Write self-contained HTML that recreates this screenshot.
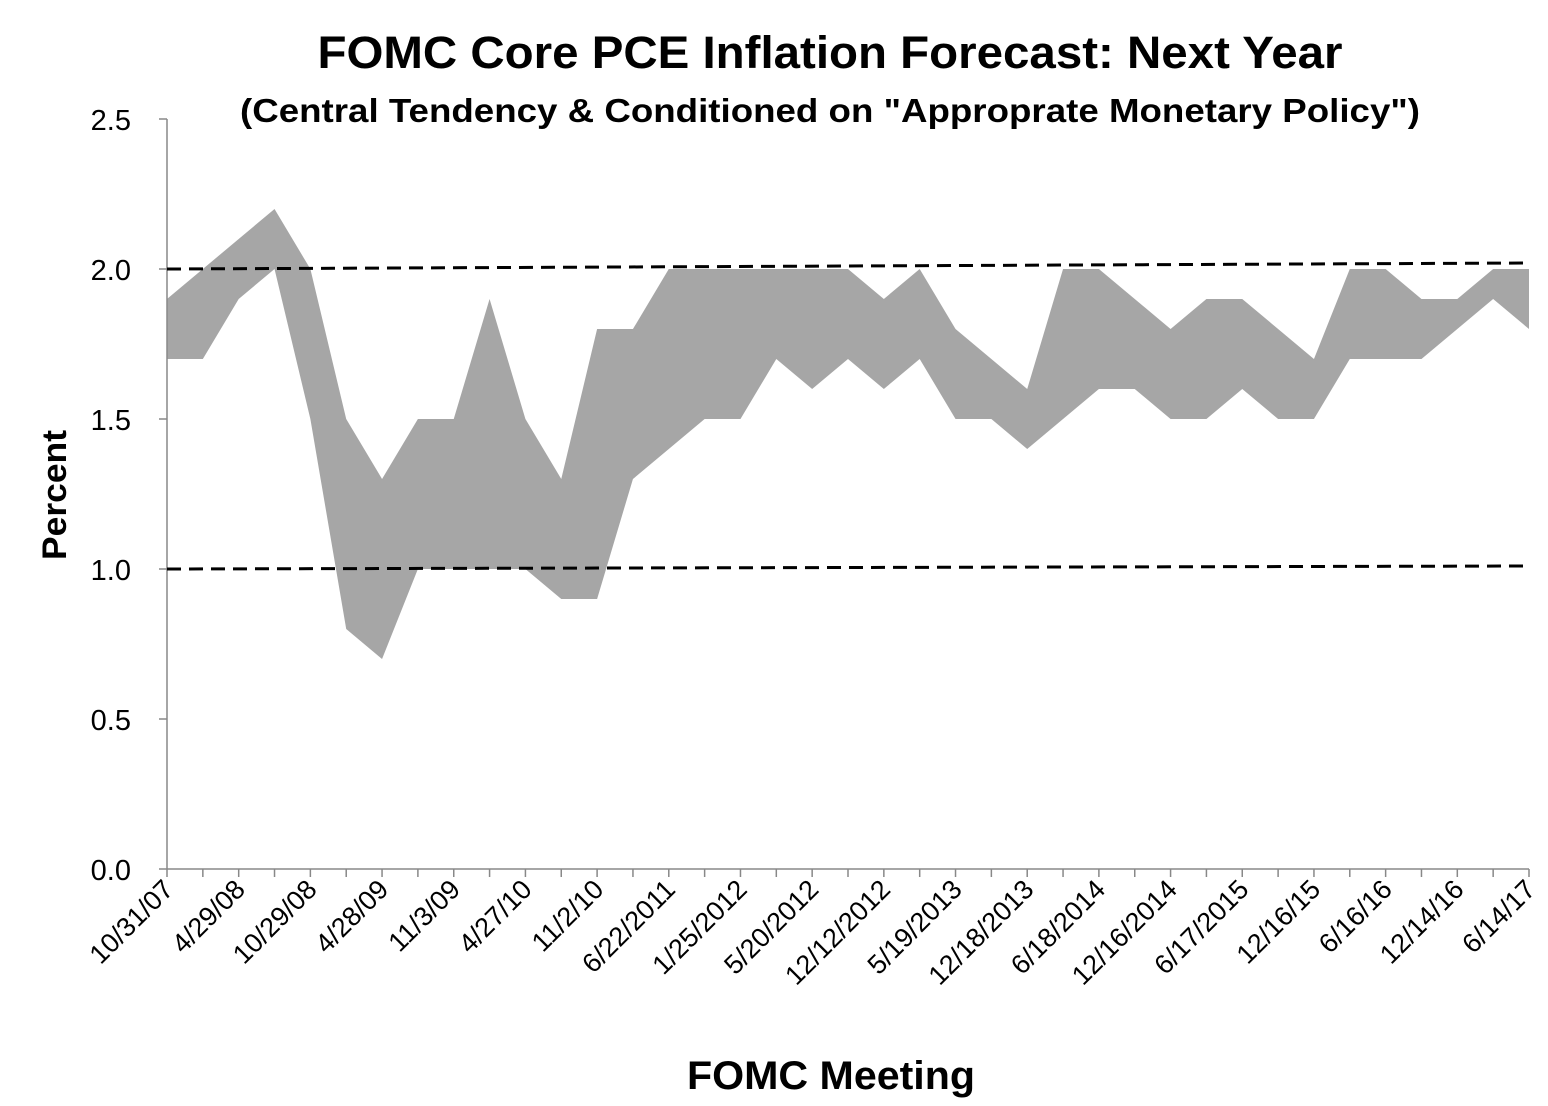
<!DOCTYPE html>
<html><head><meta charset="utf-8"><style>
body{margin:0;background:#fff;}
svg{display:block;font-family:"Liberation Sans",sans-serif;}
</style></head><body>
<svg id="chart" width="1548" height="1106" viewBox="0 0 1548 1106">
<text x="830" y="68" text-anchor="middle" font-size="45" font-weight="bold" textLength="1025" lengthAdjust="spacingAndGlyphs">FOMC Core PCE Inflation Forecast: Next Year</text>
<text x="830" y="122" text-anchor="middle" font-size="33" font-weight="bold" textLength="1180" lengthAdjust="spacingAndGlyphs">(Central Tendency &amp; Conditioned on "Approprate Monetary Policy")</text>
<text transform="translate(66,495) rotate(-90)" text-anchor="middle" font-size="34" font-weight="bold" textLength="130" lengthAdjust="spacingAndGlyphs">Percent</text>
<text x="831" y="1089" text-anchor="middle" font-size="40" font-weight="bold" textLength="288" lengthAdjust="spacingAndGlyphs">FOMC Meeting</text>
<g id="plot"></g>
</svg>
<script>
const labels=["10/31/07","","4/29/08","","10/29/08","","4/28/09","","11/3/09","","4/27/10","","11/2/10","","6/22/2011","","1/25/2012","","5/20/2012","","12/12/2012","","5/19/2013","","12/18/2013","","6/18/2014","","12/16/2014","","6/17/2015","","12/16/15","","6/16/16","","12/14/16","","6/14/17"];
const upper=[1.9,2.0,2.1,2.2,2.0,1.5,1.3,1.5,1.5,1.9,1.5,1.3,1.8,1.8,2.0,2.0,2.0,2.0,2.0,2.0,1.9,2.0,1.8,1.7,1.6,2.0,2.0,1.9,1.8,1.9,1.9,1.8,1.7,2.0,2.0,1.9,1.9,2.0,2.0];
const lower=[1.7,1.7,1.9,2.0,1.5,0.8,0.7,1.0,1.0,1.0,1.0,0.9,0.9,1.3,1.4,1.5,1.5,1.7,1.6,1.7,1.6,1.7,1.5,1.5,1.4,1.5,1.6,1.6,1.5,1.5,1.6,1.5,1.5,1.7,1.7,1.7,1.8,1.9,1.8];
const yTicks=[0,0.5,1.0,1.5,2.0,2.5];
const refLow=[1.0,1.01];
const refHigh=[2.0,2.02];
const X0=167,X1=1529,Y0=869,PPU=300;
const n=upper.length;
const xs=i=>X0+(X1-X0)*i/(n-1);
const ys=v=>Y0-v*PPU;
const NS="http://www.w3.org/2000/svg";
const g=document.getElementById('plot');
function mk(t,a){const e=document.createElementNS(NS,t);for(const k in a)e.setAttribute(k,a[k]);g.appendChild(e);return e;}
let pts=[];
for(let i=0;i<n;i++)pts.push(xs(i)+","+ys(upper[i]));
for(let i=n-1;i>=0;i--)pts.push(xs(i)+","+ys(lower[i]));
const band=mk('polygon',{points:pts.join(' '),fill:'#a6a6a6'});


const ax=mk('line',{x1:X0,y1:ys(2.5),x2:X0,y2:Y0,stroke:'#888','stroke-width':1.5});


const bx=mk('line',{x1:X0,y1:Y0,x2:X1,y2:Y0,stroke:'#888','stroke-width':1.5});


yTicks.forEach(v=>{
 mk('line',{x1:X0-8,y1:ys(v),x2:X0,y2:ys(v),stroke:'#888','stroke-width':1.5});
 const t=mk('text',{x:X0-36,y:ys(v)+11,'text-anchor':'end','font-size':29});
 t.textContent=v.toFixed(1);
 
 
});
for(let i=0;i<n;i++){
 mk('line',{x1:xs(i),y1:Y0,x2:xs(i),y2:Y0+8,stroke:'#888','stroke-width':1.5});
 if(labels[i]){
  const t=mk('text',{transform:`translate(${xs(i)+8},${Y0+22}) rotate(-45)`,'text-anchor':'end','font-size':27});
  t.textContent=labels[i];
  
  
 }
}
[[refHigh,'target-line-2pct'],[refLow,'target-line-1pct']].forEach(([r,nm])=>{
 const l=mk('line',{x1:X0,y1:ys(r[0]),x2:X1,y2:ys(r[1]),stroke:'#000','stroke-width':3,'stroke-dasharray':'14,8'});
 
 
});
</script>
</body></html>
